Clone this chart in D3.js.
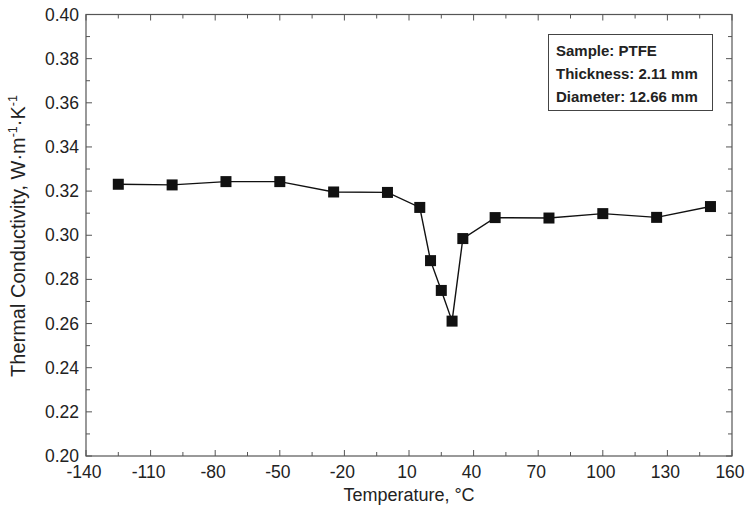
<!DOCTYPE html>
<html lang="en">
<head>
<meta charset="UTF-8">
<title>PTFE thermal conductivity</title>
<script src="https://d3js.org/d3.v7.min.js"></script>
<style>
    body { margin: 0; background: #fff; }
    svg text { font-family: "Liberation Sans", Arial, sans-serif; fill: #222; }
    .axis path, .axis line { stroke: #555; }
    .tick-label { font-size: 17.5px; }
    .axis-title { font-size: 18px; }
    .y-title { font-size: 20px; }
    .note { font-size: 15px; font-weight: bold; }
</style>
</head>
<body>
<div id="chart"></div>
<script>
    // temperatures (°C) and measured conductivity (W/m/K)
    const temps = [-125, -100, -75, -50, -25, 0, 15, 20, 25, 30, 35, 50, 75, 100, 125, 150];
    const conductivity = [0.3231, 0.3228, 0.3243, 0.3243, 0.3196, 0.3194, 0.3126, 0.2885, 0.2750, 0.2611, 0.2985, 0.3080, 0.3078, 0.3098, 0.3081, 0.3130];
    const xTicks = [-140, -110, -80, -50, -20, 10, 40, 70, 100, 130, 160];
    const yTicks = [0.20, 0.22, 0.24, 0.26, 0.28, 0.30, 0.32, 0.34, 0.36, 0.38, 0.40];
    const noteLines = ["Sample: PTFE", "Thickness: 2.11 mm", "Diameter: 12.66 mm"];

    const width = 748, height = 514;
    const m = { left: 86, right: 16, top: 14.5, bottom: 58 };

    const svg = d3.select("#chart").append("svg")
        .attr("width", width)
        .attr("height", height);

    const x = d3.scaleLinear().domain([-140, 160]).range([m.left, width - m.right]);
    const y = d3.scaleLinear().domain([0.20, 0.40]).range([height - m.bottom, m.top]);

    const xMinor = d3.range(-125, 160, 30);
    const yMinor = d3.range(0.21, 0.40, 0.02);

    // frame
    svg.append("rect")
        .attr("x", x(-140)).attr("y", y(0.40))
        .attr("width", x(160) - x(-140)).attr("height", y(0.20) - y(0.40))
        .attr("fill", "none").attr("stroke", "#555").attr("stroke-width", 1.2);

    // inward ticks on all four sides
    function ticks(g, vals, len) {
        g.selectAll(null).data(vals).enter().append("line")
            .attr("x1", d => x(d)).attr("x2", d => x(d))
            .attr("y1", y(0.20)).attr("y2", y(0.20) - len)
            .attr("stroke", "#555");
        g.selectAll(null).data(vals).enter().append("line")
            .attr("x1", d => x(d)).attr("x2", d => x(d))
            .attr("y1", y(0.40)).attr("y2", y(0.40) + len)
            .attr("stroke", "#555");
    }
    function yticks(g, vals, len) {
        g.selectAll(null).data(vals).enter().append("line")
            .attr("y1", d => y(d)).attr("y2", d => y(d))
            .attr("x1", x(-140)).attr("x2", x(-140) + len)
            .attr("stroke", "#555");
        g.selectAll(null).data(vals).enter().append("line")
            .attr("y1", d => y(d)).attr("y2", d => y(d))
            .attr("x1", x(160)).attr("x2", x(160) - len)
            .attr("stroke", "#555");
    }
    const tg = svg.append("g").attr("class", "axis");
    ticks(tg, xTicks, 6);
    ticks(tg, xMinor, 4);
    yticks(tg, yTicks, 6);
    yticks(tg, yMinor, 4);

    // tick labels
    svg.selectAll(".xl").data(xTicks).enter().append("text")
        .attr("class", "tick-label")
        .attr("x", d => x(d) - 2).attr("y", y(0.20) + 22)
        .attr("text-anchor", "middle")
        .text(d => d);
    svg.selectAll(".yl").data(yTicks).enter().append("text")
        .attr("class", "tick-label")
        .attr("x", x(-140) - 7).attr("y", d => y(d) + 6)
        .attr("text-anchor", "end")
        .text(d => d.toFixed(2));

    // axis titles
    svg.append("text").attr("class", "axis-title")
        .attr("x", x(10)).attr("y", 501)
        .attr("text-anchor", "middle")
        .text("Temperature, °C");

    const yt = svg.append("text").attr("class", "y-title")
        .attr("transform", `translate(25, 236) rotate(-90)`)
        .attr("text-anchor", "middle");
    yt.append("tspan").text("Thermal Conductivity, W·m");
    yt.append("tspan").style("font-size", "12.5px").attr("dy", -8).text("-1");
    yt.append("tspan").attr("dy", 8).text("·K");
    yt.append("tspan").style("font-size", "12.5px").attr("dy", -8).text("-1");

    // data line and markers
    const pts = temps.map((t, i) => [t, conductivity[i]]);
    svg.append("path")
        .datum(pts)
        .attr("fill", "none")
        .attr("stroke", "#111")
        .attr("stroke-width", 1.4)
        .attr("d", d3.line().x(d => x(d[0])).y(d => y(d[1])));

    const s = 11;
    svg.selectAll(".pt").data(pts).enter().append("rect")
        .attr("x", d => x(d[0]) - s / 2).attr("y", d => y(d[1]) - s / 2)
        .attr("width", s).attr("height", s)
        .attr("fill", "#111");

    // sample info box
    svg.append("rect")
        .attr("x", 548.5).attr("y", 34.5)
        .attr("width", 164).attr("height", 76)
        .attr("fill", "#fff").attr("stroke", "#444").attr("stroke-width", 1);
    svg.selectAll(".note").data(noteLines).enter().append("text")
        .attr("class", "note")
        .attr("x", 556).attr("y", (d, i) => 56 + i * 23.2)
        .text(d => d);
</script>
</body>
</html>
